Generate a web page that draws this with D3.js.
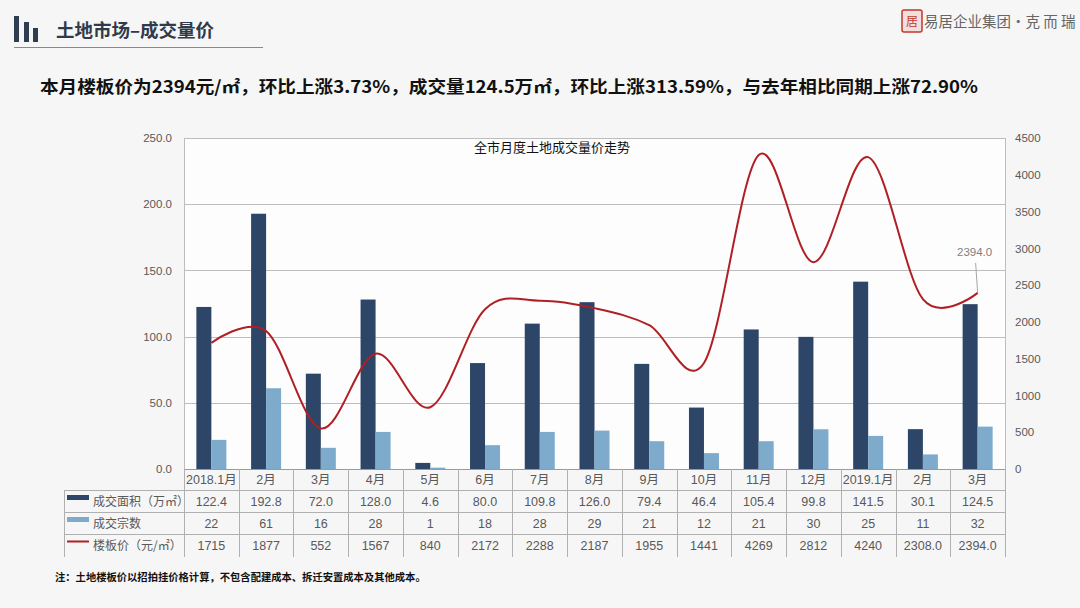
<!DOCTYPE html>
<html><head><meta charset="utf-8">
<script src="https://cdn.jsdelivr.net/npm/d3@7"></script>
<style>
html,body{margin:0;padding:0;background:#f6f6f6;}
svg{display:block;}
</style></head>
<body>
<svg id="c" width="1080" height="608"></svg>
<script>
const categories = ["2018.1月","2月","3月","4月","5月","6月","7月","8月","9月","10月","11月","12月","2019.1月","2月","3月"];
const areaValues = [122.4,192.8,72.0,128.0,4.6,80.0,109.8,126.0,79.4,46.4,105.4,99.8,141.5,30.1,124.5];
const dealCounts = [22,61,16,28,1,18,28,29,21,12,21,30,25,11,32];
const priceValues = [1715,1877,552,1567,840,2172,2288,2187,1955,1441,4269,2812,4240,2308,2394];
const priceLabels = ["1715","1877","552","1567","840","2172","2288","2187","1955","1441","4269","2812","4240","2308.0","2394.0"];
const leftTicks = [0,50,100,150,200,250];
const rightTicks = [0,500,1000,1500,2000,2500,3000,3500,4000,4500];
const seriesNames = ["成交面积（万㎡）","成交宗数","楼板价（元/㎡）"];

const svg = d3.select("#c");
const FONT = "'Liberation Sans','Noto Sans CJK SC',sans-serif";
const CJK = "'Noto Sans CJK SC','Liberation Sans',sans-serif";
const L = 184, R = 1005, T = 138, B = 469;

// Header
const hdr = svg.append("g");
[[14,16],[24,22],[33,28]].forEach(([x,y])=>{
  hdr.append("rect").attr("x",x).attr("y",y).attr("width",5).attr("height",42-y).attr("fill","#2e3e50");
});
hdr.append("text").attr("x",56).attr("y",37).attr("font-family",CJK).attr("font-weight",700)
  .attr("font-size",18.5).attr("fill","#2f3b4c").text("土地市场–成交量价");
hdr.append("line").attr("x1",14).attr("x2",263).attr("y1",47.5).attr("y2",47.5).attr("stroke","#8a8a8a").attr("stroke-width",1);

// Logo
const logo = svg.append("g");
logo.append("rect").attr("x",902).attr("y",10).attr("width",20).attr("height",22).attr("rx",2)
  .attr("fill","#f3dede").attr("stroke","#c0392b").attr("stroke-width",1.5);
logo.append("text").attr("x",912).attr("y",26).attr("text-anchor","middle").attr("font-family",CJK)
  .attr("font-size",12).attr("fill","#c0392b").text("居");
logo.append("text").attr("x",924).attr("y",27).attr("font-family",CJK).attr("font-size",14.5)
  .attr("fill","#666").text("易居企业集团·克 而 瑞");

// Headline
svg.append("text").attr("x",40).attr("y",93).attr("font-family",CJK).attr("font-weight",700)
  .attr("font-size",17).attr("fill","#111")
  .attr("textLength",938).attr("lengthAdjust","spacingAndGlyphs")
  .text("本月楼板价为2394元/㎡，环比上涨3.73%，成交量124.5万㎡，环比上涨313.59%，与去年相比同期上涨72.90%");

// Scales
const x = d3.scaleBand().domain(d3.range(categories.length)).range([L,R]).padding(0);
const yL = d3.scaleLinear().domain([0,250]).range([B,T]);
const yR = d3.scaleLinear().domain([0,4500]).range([B,T]);

// plot bg
svg.append("rect").attr("x",L).attr("y",T).attr("width",R-L).attr("height",B-T).attr("fill","#fdfdfd");

// gridlines
svg.append("g").selectAll("line").data(leftTicks.slice(1)).join("line")
  .attr("x1",L).attr("x2",R).attr("y1",d=>Math.round(yL(d))+0.5).attr("y2",d=>Math.round(yL(d))+0.5)
  .attr("stroke","#bdbdbd").attr("stroke-width",1);
// plot borders
svg.append("line").attr("x1",L+0.5).attr("x2",L+0.5).attr("y1",T).attr("y2",B).attr("stroke","#bdbdbd");
svg.append("line").attr("x1",R+0.5).attr("x2",R+0.5).attr("y1",T).attr("y2",B).attr("stroke","#bdbdbd");

// axes labels
const axL = d3.axisLeft(yL).tickValues(leftTicks).tickFormat(d3.format(".1f")).tickSize(0).tickPadding(12);
const gL = svg.append("g").attr("transform",`translate(${L},0)`).call(axL);
gL.select(".domain").remove();
gL.selectAll("text").attr("font-family",FONT).attr("font-size",11.5).attr("fill","#595959");
const axR = d3.axisRight(yR).tickValues(rightTicks).tickFormat(d3.format("d")).tickSize(0).tickPadding(10);
const gR = svg.append("g").attr("transform",`translate(${R},0)`).call(axR);
gR.select(".domain").remove();
gR.selectAll("text").attr("font-family",FONT).attr("font-size",11.5).attr("fill","#595959");

// Chart title
svg.append("text").attr("x",552).attr("y",152).attr("text-anchor","middle").attr("font-family",CJK)
  .attr("font-size",13).attr("fill","#111").text("全市月度土地成交量价走势");

// bars
const bw = 15;
const colDark = "#2d4567", colLight = "#7eaacb", colLine = "#b01f24";
svg.append("g").selectAll("rect").data(areaValues).join("rect")
  .attr("x",(d,i)=>x(i)+x.bandwidth()/2-bw).attr("width",bw)
  .attr("y",d=>yL(d)).attr("height",d=>B-yL(d)).attr("fill",colDark);
svg.append("g").selectAll("rect").data(dealCounts).join("rect")
  .attr("x",(d,i)=>x(i)+x.bandwidth()/2).attr("width",bw)
  .attr("y",d=>yL(d)).attr("height",d=>B-yL(d)).attr("fill",colLight);

// line
const line = d3.line().x((d,i)=>x(i)+x.bandwidth()/2).y(d=>yR(d)).curve(d3.curveCardinal.tension(0));
svg.append("path").datum(priceValues).attr("d",line).attr("fill","none")
  .attr("stroke",colLine).attr("stroke-width",2);

// data label for last point
const li = priceValues.length-1;
const lx = x(li)+x.bandwidth()/2, ly = yR(priceValues[li]);
svg.append("line").attr("x1",lx).attr("y1",ly).attr("x2",lx-2).attr("y2",ly-30).attr("stroke","#a6a6a6").attr("stroke-width",1);
svg.append("text").attr("x",lx-3).attr("y",ly-37).attr("text-anchor","middle").attr("font-family",FONT)
  .attr("font-size",11.5).attr("fill","#7f7f7f").text(priceLabels[li]);

// axis base line
svg.append("line").attr("x1",L).attr("x2",R+0.5).attr("y1",B+0.5).attr("y2",B+0.5).attr("stroke","#9a9a9a");

// data table
const rowY = [469,490,512,534,557];
const tbl = svg.append("g");
[490,512,534].forEach(y=>{
  tbl.append("line").attr("x1",64).attr("x2",R+0.5).attr("y1",y+0.5).attr("y2",y+0.5).attr("stroke","#b0b0b0");
});
tbl.append("line").attr("x1",64.5).attr("x2",64.5).attr("y1",490).attr("y2",557).attr("stroke","#b0b0b0");
d3.range(categories.length+1).forEach(i=>{
  const xx = i<categories.length ? x(i) : R;
  tbl.append("line").attr("x1",Math.round(xx)+0.5).attr("x2",Math.round(xx)+0.5).attr("y1",469).attr("y2",557).attr("stroke","#b0b0b0");
});
const rows = [categories, areaValues.map(d=>d.toFixed(1)), dealCounts.map(String), priceLabels];
rows.forEach((r,ri)=>{
  tbl.append("g").selectAll("text").data(r).join("text")
    .attr("x",(d,i)=>x(i)+x.bandwidth()/2).attr("y",(rowY[ri]+rowY[ri+1])/2+4.5)
    .attr("text-anchor","middle").attr("font-family",FONT).attr("font-size",12.5).attr("fill","#595959").text(d=>d);
});
const lg = [[colDark,"rect"],[colLight,"rect"],[colLine,"line"]];
lg.forEach(([c,t],i)=>{
  const cy = (rowY[i+1]+rowY[i+2])/2;
  if(t==="rect") tbl.append("rect").attr("x",67).attr("y",cy-6).attr("width",22).attr("height",5).attr("fill",c);
  else tbl.append("line").attr("x1",67).attr("x2",89).attr("y1",cy-4).attr("y2",cy-4).attr("stroke",c).attr("stroke-width",2);
  tbl.append("text").attr("x",93).attr("y",cy+4.5).attr("font-family",CJK).attr("font-size",12).attr("fill","#595959").text(seriesNames[i]);
});

// footnote
svg.append("text").attr("x",55).attr("y",581).attr("font-family",CJK).attr("font-weight",700).attr("font-size",10.3)
  .attr("fill","#111").text("注：土地楼板价以招拍挂价格计算，不包含配建成本、拆迁安置成本及其他成本。");
</script>
</body></html>
